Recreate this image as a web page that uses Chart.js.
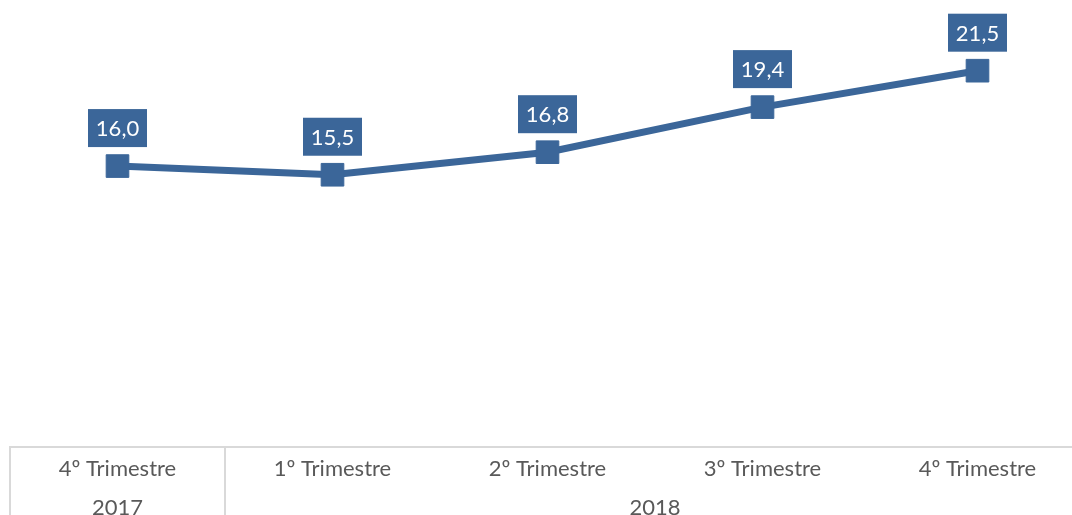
<!DOCTYPE html>
<html>
<head>
<meta charset="utf-8">
<script src="https://cdn.jsdelivr.net/npm/chart.js@4"></script>
<style>
  html, body { margin: 0; padding: 0; background: #fff; overflow: hidden; }
  #wrap { width: 1095px; height: 515px; }
</style>
</head>
<body>
<div id="wrap"><canvas id="chart" width="1095" height="515"></canvas></div>
<script>
// data
const categories = ["4º Trimestre", "1º Trimestre", "2º Trimestre", "3º Trimestre", "4º Trimestre"];
const values = [16.0, 15.5, 16.8, 19.4, 21.5];
const yearLabels = ["2017", "2018"];
const yearSpans = [1, 4];

const blue = "#3B6699";
const gridGray = "#D9D9D9";
const textGray = "#595959";
const fontFamily = "Lato, 'Open Sans', sans-serif";

// boxed value labels above each point
const valueBoxes = {
  id: "valueBoxes",
  afterDatasetsDraw(chart) {
    const ctx = chart.ctx;
    const meta = chart.getDatasetMeta(0);
    ctx.save();
    ctx.font = "22px " + fontFamily;
    ctx.textAlign = "center";
    ctx.textBaseline = "middle";
    meta.data.forEach((pt, i) => {
      const txt = values[i].toFixed(1).replace(".", ",");
      const w = 59, h = 38;
      const bottom = pt.y - 19;
      ctx.fillStyle = blue;
      ctx.fillRect(pt.x - w / 2, bottom - h, w, h);
      ctx.fillStyle = "#fff";
      ctx.fillText(txt, pt.x, bottom - h / 2 + 1);
    });
    ctx.restore();
  }
};

// table-style grouping under the x axis
const axisTable = {
  id: "axisTable",
  afterDraw(chart) {
    const ctx = chart.ctx;
    const x = chart.scales.x;
    const area = chart.chartArea;
    const step = x.getPixelForValue(1) - x.getPixelForValue(0);
    ctx.save();
    ctx.strokeStyle = gridGray;
    ctx.lineWidth = 2;
    // vertical separators at group boundaries
    let idx = 0;
    const bounds = [idx];
    yearSpans.forEach(s => { idx += s; bounds.push(idx); });
    bounds.forEach(b => {
      const px = Math.round(x.getPixelForValue(0) - step / 2 + b * step);
      ctx.beginPath();
      ctx.moveTo(px, area.bottom);
      ctx.lineTo(px, chart.height);
      ctx.stroke();
    });
    // year labels
    ctx.font = "22px " + fontFamily;
    ctx.fillStyle = textGray;
    ctx.textAlign = "center";
    ctx.textBaseline = "middle";
    let start = 0;
    yearLabels.forEach((lab, i) => {
      const end = start + yearSpans[i] - 1;
      const cx = (x.getPixelForValue(start) + x.getPixelForValue(end)) / 2;
      ctx.fillText(lab, cx, area.bottom + 61);
      start += yearSpans[i];
    });
    ctx.restore();
  }
};

new Chart(document.getElementById("chart"), {
  type: "line",
  data: {
    labels: categories,
    datasets: [{
      data: values,
      borderColor: blue,
      backgroundColor: blue,
      borderWidth: 7,
      pointStyle: "rect",
      pointRadius: 16,
      pointHoverRadius: 16,
      pointBorderWidth: 1,
      pointBackgroundColor: blue,
      pointBorderColor: blue,
      tension: 0
    }]
  },
  options: {
    responsive: false,
    animation: false,
    layout: { autoPadding: false, padding: { left: 10, right: 10, top: 10, bottom: 0 } },
    plugins: { legend: { display: false }, tooltip: { enabled: false } },
    scales: {
      x: {
        offset: true,
        grid: { display: false, drawTicks: false },
        border: { display: true, color: gridGray, width: 2 },
        ticks: { color: textGray, font: { family: fontFamily, size: 22 }, padding: 9, maxRotation: 0, autoSkip: false },
        afterFit(scale) { scale.height = 68; }
      },
      y: {
        display: false,
        min: -0.2,
        max: 25
      }
    }
  },
  plugins: [valueBoxes, axisTable]
});
</script>
</body>
</html>
